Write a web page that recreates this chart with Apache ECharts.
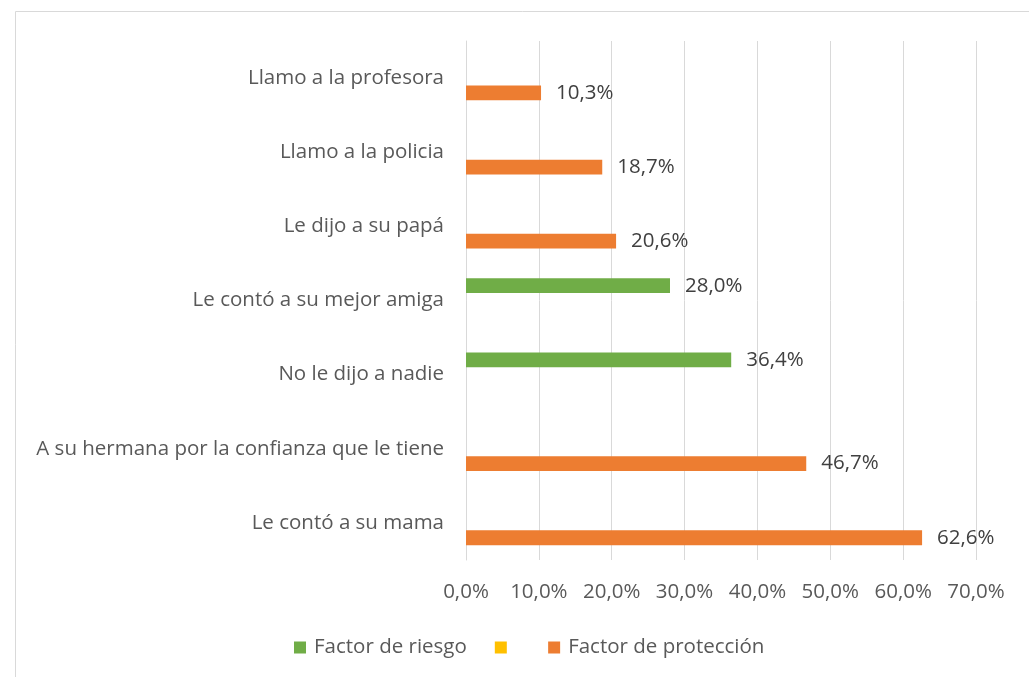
<!DOCTYPE html>
<html>
<head>
<meta charset="utf-8">
<script src="https://cdn.jsdelivr.net/npm/echarts@6/dist/echarts.min.js"></script>
<style>
  html, body { margin: 0; padding: 0; background: #fff; }
  #chart { width: 1029px; height: 677px; }
</style>
</head>
<body>
<div id="chart"></div>
<script>
  // categorias (de abajo hacia arriba)
  var categorias = [
    'Le contó a su mama',
    'A su hermana por la confianza que le tiene',
    'No le dijo a nadie',
    'Le contó a su mejor amiga',
    'Le dijo a su papá',
    'Llamo a la policia',
    'Llamo a la profesora'
  ];
  var riesgo = ['-', '-', 36.4, 28.0, '-', '-', '-'];
  var vacio = ['-', '-', '-', '-', '-', '-', '-'];
  var proteccion = [62.6, 46.7, '-', '-', 20.6, 18.7, 10.3];
  var ticks = [0, 10, 20, 30, 40, 50, 60, 70];

  function pct(v) {
    return Number(v).toFixed(1).replace('.', ',') + '%';
  }

  var fuente = '"Open Sans", "Noto Sans", sans-serif';
  var tam = 20.5;
  var myChart = echarts.init(document.getElementById('chart'));

  var etiqueta = {
    show: true,
    position: 'right',
    distance: 15,
    color: '#404040',
    fontSize: tam,
    fontFamily: fuente,
    formatter: function (p) { return pct(p.value); }
  };

  myChart.setOption({
    animation: false,
    graphic: [{
      type: 'rect',
      shape: { x: 15.5, y: 11.5, width: 1100, height: 800 },
      style: { fill: 'none', stroke: '#d9d9d9', lineWidth: 1 },
      silent: true
    }],
    grid: { left: 466, right: 53, top: 41, bottom: 117 },
    legend: {
      top: 632,
      left: 289,
      icon: 'rect',
      itemWidth: 12,
      itemHeight: 12,
      itemGap: 28,
      data: ['Factor de riesgo', ' ', 'Factor de protección'],
      textStyle: { color: '#595959', fontSize: tam, fontFamily: fuente, padding: [0, 0, 0, 3] }
    },
    xAxis: {
      type: 'value',
      min: ticks[0],
      max: ticks[ticks.length - 1],
      interval: 10,
      axisLine: { show: false },
      axisTick: { show: false },
      splitLine: { lineStyle: { color: '#d9d9d9', width: 1 } },
      axisLabel: {
        margin: 22,
        color: '#595959',
        fontSize: tam,
        fontFamily: fuente,
        formatter: function (v) { return pct(v); }
      }
    },
    yAxis: {
      type: 'category',
      data: categorias,
      axisLine: { show: true, lineStyle: { color: '#d9d9d9' } },
      axisTick: { show: false },
      axisLabel: {
        margin: 22,
        color: '#595959',
        fontSize: tam,
        fontFamily: fuente
      }
    },
    series: [
      {
        name: 'Factor de riesgo',
        type: 'bar',
        data: riesgo,
        itemStyle: { color: '#70AD47' },
        barGap: '0%',
        barCategoryGap: '40%',
        label: etiqueta
      },
      {
        name: ' ',
        type: 'bar',
        data: vacio,
        itemStyle: { color: '#FFC000' },
        label: etiqueta
      },
      {
        name: 'Factor de protección',
        type: 'bar',
        data: proteccion,
        itemStyle: { color: '#ED7D31' },
        label: etiqueta
      }
    ]
  });
</script>
</body>
</html>
